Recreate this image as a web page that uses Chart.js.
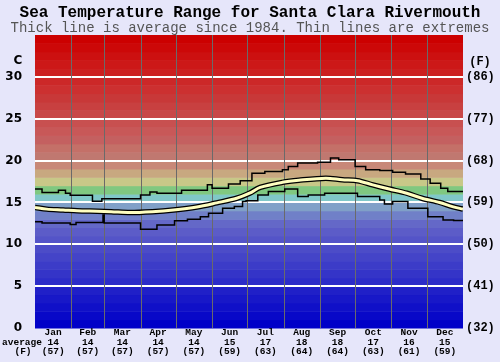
<!DOCTYPE html>
<html>
<head>
<meta charset="utf-8">
<script src="https://cdn.jsdelivr.net/npm/chart.js@4.4.1/dist/chart.umd.min.js"></script>
<style>
  html, body { margin: 0; padding: 0; background: #e6e6fa; }
  #wrap { width: 500px; height: 362px; }
</style>
</head>
<body>
<div id="wrap"><canvas id="chart" width="500" height="362"></canvas></div>
<script>
// month labels and monthly averages (C and F)
const months = ['Jan', 'Feb', 'Mar', 'Apr', 'May', 'Jun', 'Jul', 'Aug', 'Sep', 'Oct', 'Nov', 'Dec'];
const monthAvgC = [14, 14, 14, 14, 14, 15, 17, 18, 18, 17, 16, 15];
const monthAvgF = [57, 57, 57, 57, 57, 59, 63, 64, 64, 63, 61, 59];
const monthStarts = [0, 31, 59, 90, 120, 151, 181, 212, 243, 273, 304, 334, 365];

// y axis ticks
const tempTicksC = [0, 5, 10, 15, 20, 25, 30];
const tempTicksF = [32, 41, 50, 59, 68, 77, 86];

// extremes (day of year -> temp C), stepped
const maxDays = [0, 6, 20, 26, 30, 49, 57, 90, 98, 104, 125, 147, 151, 165, 175, 185, 196, 211, 216, 224, 241, 252, 259, 273, 282, 294, 305, 316, 329, 337, 346, 352, 365];
const maxTemps = [16.6, 16.2, 16.45, 16.1, 15.85, 15.15, 15.45, 15.9, 16.25, 16.1, 16.45, 17.1, 16.7, 17.2, 17.6, 18.5, 18.7, 18.9, 19.3, 19.7, 19.8, 20.3, 20.1, 19.3, 18.9, 18.8, 18.6, 18.4, 17.8, 17.3, 16.7, 16.3, 16.3];

const minDays = [0, 6, 30, 35, 58, 59, 90, 104, 119, 130, 141, 148, 160, 170, 177, 180, 190, 199, 213, 224, 233, 247, 275, 294, 298, 305, 318, 335, 348, 357, 365];
const minTemps = [12.7, 12.55, 12.35, 12.6, 13.5, 12.55, 11.8, 12.3, 12.8, 13.0, 13.3, 13.7, 14.3, 14.5, 15.1, 15.2, 15.9, 16.3, 16.6, 15.7, 15.9, 16.1, 15.7, 15.3, 14.8, 15.1, 14.3, 13.3, 12.9, 12.85, 12.9];

// average since 1984
const avgDays = [0, 10, 24, 36, 53, 65, 81, 100, 118, 138, 155, 172, 183, 192, 211, 225, 248, 262, 275, 288, 302, 317, 330, 345, 356, 365];
const avgTemps = [14.4, 14.2, 14.1, 14.0, 13.95, 13.9, 13.8, 13.9, 14.1, 14.45, 14.95, 15.5, 16.1, 16.8, 17.4, 17.65, 17.9, 17.7, 17.6, 17.1, 16.6, 16.1, 15.5, 15.0, 14.5, 14.2];

// one colour per 1 degree band, from 0 upwards
const bandColors = ['#0000c8', '#0808c8', '#1010c8', '#1818c8', '#2020c8', '#2c2cc8', '#3434c8', '#3c3cc8', '#4444c8', '#4c4cc8',
  '#5454c8', '#5c5cc8', '#6468c8', '#7080c8', '#80a0c8', '#80c8c8', '#80c880', '#c8c888', '#c8a880', '#c88878',
  '#c07870', '#c47068', '#c46060', '#c85858', '#c85050', '#c84848', '#c84040', '#c83838', '#cc3030', '#cc2828',
  '#cc2020', '#cc1818', '#cc1010', '#cc0808', '#cc0000'];

const MONO = "'Liberation Mono', 'Courier New', monospace";
const SANS = "'DejaVu Sans', Verdana, sans-serif";

const pts = (days, temps) => days.map((d, i) => ({ x: d, y: temps[i] }));
const monthMid = months.map((_, i) => (monthStarts[i] + monthStarts[i + 1]) / 2);

const backdrop = {
    id: 'backdrop',
    beforeDraw(chart) {
        const { ctx, chartArea: a, scales: { y } } = chart;
        ctx.save();
        ctx.fillStyle = '#e6e6fa';
        ctx.fillRect(0, 0, chart.width, chart.height);
        bandColors.forEach((c, i) => {
            const top = y.getPixelForValue(i + 1);
            const bot = y.getPixelForValue(i);
            ctx.fillStyle = c;
            ctx.fillRect(a.left, top, a.right - a.left, bot - top + 0.5);
        });
        ctx.restore();
    },
    beforeDatasetsDraw(chart) {
        const { ctx, chartArea: a, scales: { x } } = chart;
        ctx.save();
        ctx.strokeStyle = '#6a6a6a';
        ctx.lineWidth = 1;
        monthStarts.slice(1, -1).forEach(d => {
            const px = Math.round(x.getPixelForValue(d)) + 0.5;
            ctx.beginPath();
            ctx.moveTo(px, a.top);
            ctx.lineTo(px, a.bottom);
            ctx.stroke();
        });
        ctx.restore();
    },
    afterDraw(chart) {
        const { ctx } = chart;
        ctx.save();
        ctx.fillStyle = '#000';
        ctx.textAlign = 'center';
        ctx.textBaseline = 'middle';
        ctx.font = 'bold 12px ' + SANS;
        ctx.fillText('C', 18, 61);
        ctx.font = 'bold 12px ' + MONO;
        ctx.fillText('(F)', 480, 62);
        ctx.font = 'bold 9.5px ' + MONO;
        ctx.fillText('average', 22, 343);
        ctx.fillText('(F)', 23, 352);
        ctx.restore();
    }
};

// dataset 0 is drawn on top, so the cream average line comes first
new Chart(document.getElementById('chart'), {
    type: 'line',
    data: {
        datasets: [
            { data: pts(avgDays, avgTemps), borderColor: '#ffffc0', borderWidth: 3, tension: 0.3, pointRadius: 0 },
            { data: pts(avgDays, avgTemps), borderColor: '#000', borderWidth: 5.5, tension: 0.3, pointRadius: 0 },
            { data: pts(maxDays, maxTemps), borderColor: '#000', borderWidth: 1.5, stepped: true, pointRadius: 0 },
            { data: pts(minDays, minTemps), borderColor: '#000', borderWidth: 1.5, stepped: true, pointRadius: 0 }
        ]
    },
    options: {
        responsive: false,
        animation: false,
        devicePixelRatio: 1,
        layout: { padding: 0 },
        plugins: {
            legend: { display: false },
            tooltip: { enabled: false },
            title: {
                display: true,
                text: 'Sea Temperature Range for Santa Clara Rivermouth',
                color: '#000',
                font: { family: MONO, size: 16, weight: 'bold', lineHeight: 1 },
                padding: { top: 5, bottom: 0 }
            },
            subtitle: {
                display: true,
                text: 'Thick line is average since 1984. Thin lines are extremes',
                color: '#555',
                font: { family: MONO, size: 14, weight: 'normal', lineHeight: 1 },
                padding: { top: 0, bottom: 0 }
            }
        },
        scales: {
            x: {
                type: 'linear',
                min: 0,
                max: 365,
                grid: { display: false, drawTicks: false },
                border: { display: false },
                afterBuildTicks: s => { s.ticks = monthMid.map(v => ({ value: v })); },
                afterFit: s => { s.height = 34; },
                ticks: {
                    autoSkip: false,
                    maxRotation: 0,
                    padding: 0,
                    color: '#000',
                    font: { family: MONO, size: 9.5, weight: 'bold', lineHeight: 1 },
                    callback: (v, i) => [months[i], String(monthAvgC[i]), '(' + monthAvgF[i] + ')']
                }
            },
            y: {
                position: 'left',
                min: 0,
                max: 35,
                border: { display: false },
                grid: {
                    drawTicks: false,
                    lineWidth: 2,
                    color: c => (c.tick && c.tick.value === 0) ? 'rgba(0,0,0,0)' : '#ffffff'
                },
                afterBuildTicks: s => { s.ticks = tempTicksC.map(v => ({ value: v })); },
                afterFit: s => { s.width = 35; },
                ticks: {
                    padding: 13,
                    color: '#000',
                    font: { family: SANS, size: 12, weight: 'bold' },
                    callback: v => String(v)
                }
            },
            y2: {
                position: 'right',
                min: 0,
                max: 35,
                border: { display: false },
                grid: { display: false, drawTicks: false },
                afterBuildTicks: s => { s.ticks = tempTicksC.map(v => ({ value: v })); },
                afterFit: s => { s.width = 37; },
                ticks: {
                    padding: 3,
                    color: '#000',
                    font: { family: MONO, size: 12, weight: 'bold' },
                    callback: (v, i) => '(' + tempTicksF[i] + ')'
                }
            }
        }
    },
    plugins: [backdrop]
});
</script>
</body>
</html>
